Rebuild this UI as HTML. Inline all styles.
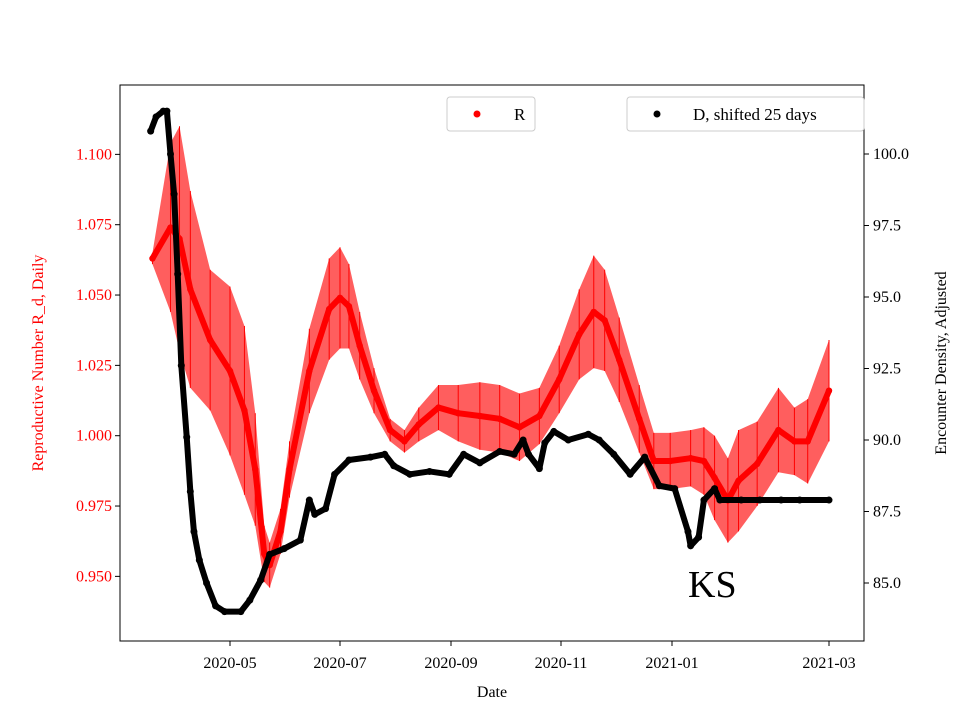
<!DOCTYPE html>
<html><head><meta charset="utf-8">
<style>
body{margin:0;background:#fff;}
svg text{font-family:"Liberation Serif",serif;}
</style></head>
<body>
<svg id="chart" width="960" height="720" xmlns="http://www.w3.org/2000/svg">
<g id="bands"></g><g id="rline"></g><g id="dline"></g>
<rect x="120" y="85" width="744" height="556" fill="none" stroke="#000" stroke-width="1"/>
<g id="axes"></g>
<text x="492" y="697" font-size="16" text-anchor="middle">Date</text>
<text transform="translate(43,363) rotate(-90)" font-size="16" text-anchor="middle" fill="#ff0000">Reproductive Number R_d, Daily</text>
<text transform="translate(946,363) rotate(-90)" font-size="16" text-anchor="middle">Encounter Density, Adjusted</text>
<text x="688" y="597" font-size="38">KS</text>
<g>
<rect x="447" y="97" width="88" height="34" rx="3" fill="#fff" stroke="#ccc"/>
<circle cx="477" cy="114" r="3.5" fill="#ff0000"/>
<text x="514" y="120" font-size="17">R</text></g>
<g>
<rect x="627" y="97" width="237" height="34" rx="3" fill="#fff" stroke="#ccc"/>
<circle cx="657" cy="114" r="3.5" fill="#000"/>
<text x="693" y="120" font-size="17">D, shifted 25 days</text></g>
</svg>
<script>
// data (days since 2020-05-01)
const rDays=[-43,-33,-28,-22,-11,0,8,14,19,22,28,33,44,55,61,66,72,80,89,97,105,116,127,139,150,161,172,183,194,202,208,216,227,235,244,252,257,261,266,270,277,285,291,296,304];
const rVals=[1.063,1.074,1.070,1.052,1.034,1.023,1.009,0.988,0.958,0.954,0.966,0.988,1.023,1.045,1.049,1.046,1.032,1.016,1.002,0.998,1.004,1.010,1.008,1.007,1.006,1.003,1.007,1.020,1.036,1.044,1.041,1.027,1.006,0.991,0.991,0.992,0.991,0.985,0.977,0.984,0.990,1.002,0.998,0.998,1.016];
const rErr=[0.002,0.03,0.04,0.035,0.025,0.03,0.03,0.02,0.01,0.008,0.008,0.01,0.015,0.018,0.018,0.015,0.012,0.008,0.004,0.004,0.006,0.008,0.01,0.012,0.012,0.012,0.01,0.012,0.016,0.02,0.018,0.015,0.012,0.01,0.01,0.01,0.012,0.015,0.015,0.018,0.015,0.015,0.012,0.015,0.018];
const dDays=[-44,-41,-37,-35,-33,-31,-29,-27,-24,-22,-20,-17,-13,-8,-3,6,11,17,22,30,39,44,47,53,58,66,78,86,91,100,111,122,130,139,150,158,163,166,172,175,180,188,199,205,213,222,230,238,246,251,252,255,257,261,263,271,278,286,293,304];
const dVals=[100.8,101.3,101.5,101.5,100.0,98.6,95.8,92.6,90.1,88.2,86.8,85.8,85.0,84.2,84.0,84.0,84.4,85.1,86.0,86.2,86.5,87.9,87.4,87.6,88.8,89.3,89.4,89.5,89.1,88.8,88.9,88.8,89.5,89.2,89.6,89.5,90.0,89.5,89.0,89.9,90.3,90.0,90.2,90.0,89.5,88.8,89.4,88.4,88.3,86.8,86.3,86.6,87.9,88.3,87.9,87.9,87.9,87.9,87.9,87.9];
const xTickDays=[0,61,123,184,245,304];
const xTickLabels=["2020-05","2020-07","2020-09","2020-11","2021-01","2021-03"];
const lTicks=[0.950,0.975,1.000,1.025,1.050,1.075,1.100];
const rTicks=[85.0,87.5,90.0,92.5,95.0,97.5,100.0];
const NS="http://www.w3.org/2000/svg";
const xPx=[230,340,451,561,672,829];
function X(d){let i=0;if(d>xTickDays[4])i=4;else{for(i=0;i<4;i++)if(d<=xTickDays[i+1])break;}
 return xPx[i]+(d-xTickDays[i])*(xPx[i+1]-xPx[i])/(xTickDays[i+1]-xTickDays[i]);}
function YL(v){return 435.7-(v-1)*2813.3;}
function YR(v){return 154+(100-v)*28.6;}
function el(t,a,p){const e=document.createElementNS(NS,t);for(const k in a)e.setAttribute(k,a[k]);p.appendChild(e);return e;}
const bands=document.getElementById('bands'),rl=document.getElementById('rline'),dl=document.getElementById('dline'),ax=document.getElementById('axes');
let up=rDays.map((d,i)=>X(d)+','+YL(rVals[i]+rErr[i])),lo=rDays.map((d,i)=>X(d)+','+YL(rVals[i]-rErr[i])).reverse();
let band=el('polygon',{points:up.concat(lo).join(' '),fill:'#ff2020','fill-opacity':0.72},bands);


rDays.forEach((d,i)=>{const l=el('line',{x1:X(d),x2:X(d),y1:YL(rVals[i]+rErr[i]),y2:YL(rVals[i]-rErr[i]),stroke:'#ff0000','stroke-width':1},bands);

});
let rp=el('polyline',{points:rDays.map((d,i)=>X(d)+','+YL(rVals[i])).join(' '),fill:'none',stroke:'#ff0000','stroke-width':6,'stroke-linejoin':'round','stroke-linecap':'round'},rl);


rDays.forEach((d,i)=>{const c=el('circle',{cx:X(d),cy:YL(rVals[i]),r:3.2,fill:'#ff0000'},rl);

});
let dp=el('polyline',{points:dDays.map((d,i)=>X(d)+','+YR(dVals[i])).join(' '),fill:'none',stroke:'#000','stroke-width':6,'stroke-linejoin':'round','stroke-linecap':'round'},dl);


dDays.forEach((d,i)=>{const c=el('circle',{cx:X(d),cy:YR(dVals[i]),r:3.5,fill:'#000'},dl);

});
xTickDays.forEach((d,i)=>{const x=X(d);el('line',{x1:x,x2:x,y1:641,y2:646,stroke:'#000'},ax);
const t=el('text',{x:x,y:668,'font-size':16,'text-anchor':'middle'},ax);t.textContent=xTickLabels[i];

});
lTicks.forEach(v=>{const y=YL(v);el('line',{x1:115,x2:120,y1:y,y2:y,stroke:'#000'},ax);
const t=el('text',{x:112,y:y+5,'font-size':16,'text-anchor':'end',fill:'#ff0000'},ax);t.textContent=v.toFixed(3);

});
rTicks.forEach(v=>{const y=YR(v);el('line',{x1:864,x2:869,y1:y,y2:y,stroke:'#000'},ax);
const t=el('text',{x:873,y:y+5,'font-size':16},ax);t.textContent=v.toFixed(1);

});
</script>
</body></html>
